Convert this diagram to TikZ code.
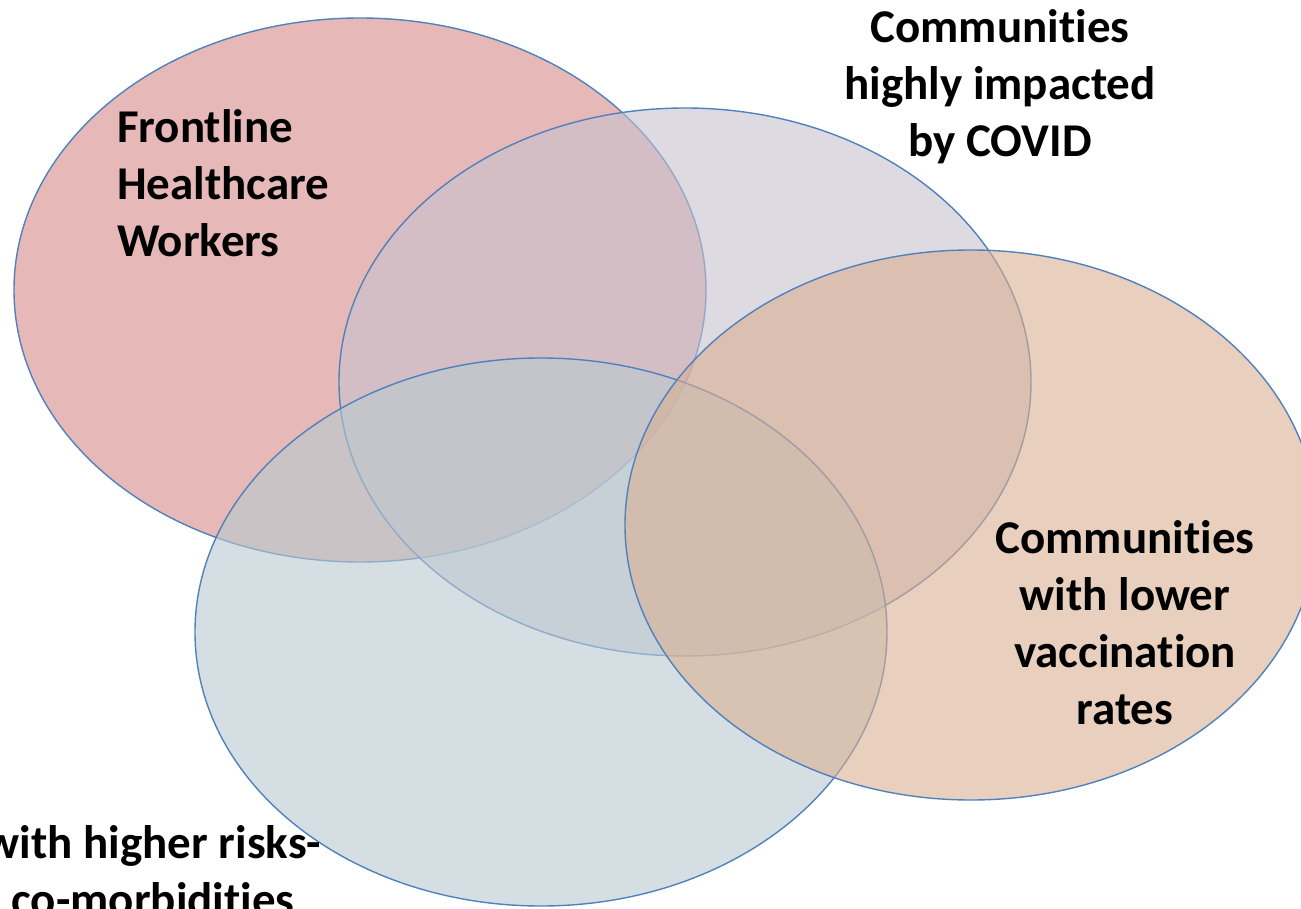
\documentclass[tikz,border=0pt]{standalone}
\usepackage{fontspec}
\setmainfont[Ligatures=NoCommon]{Carlito}
\usetikzlibrary{shapes.geometric}
\definecolor{ringline}{RGB}{79,129,189}
\definecolor{redset}{RGB}{213,137,135}
\definecolor{lavset}{RGB}{198,193,207}
\definecolor{blueset}{RGB}{185,202,208}
\definecolor{peachset}{RGB}{218,175,145}
\begin{document}
\begin{tikzpicture}[x=1pt,y=-1pt,
  setring/.style={ellipse, draw=ringline, line width=1.4pt, inner sep=0pt,
    minimum width=692pt, minimum height=548pt, fill opacity=0.6},
  setlabel/.style={font=\bfseries\fontsize{47}{57}\selectfont, inner sep=0pt, text=black}]
\useasboundingbox (0,0) rectangle (1301,909);
% the four overlapping groups
\node[setring, fill=redset, minimum height=544pt] (fhw) at (360,290) {};
\node[setring, fill=lavset] (covid) at (685,382) {};
\node[setring, fill=blueset] (risk) at (541,632) {};
\node[setring, fill=peachset, minimum height=550pt] (vacc) at (971,525) {};
% group labels (anchored at the baseline of the last line)
\node[setlabel, align=left, anchor=base west] (fhwtext) at (117,257)
  {Frontline\\Healthcare\\Workers};
\node[setlabel, align=center, anchor=base] (covidtext) at (1000,157)
  {Communities\\highly impacted\\by COVID};
\node[setlabel, align=center, anchor=base] (vacctext) at (1125,724)
  {Communities\\with lower\\vaccination\\rates};
\node[setlabel, align=center, anchor=base] (risktext) at (153,915)
  {with higher risks-\\co-morbidities};
\end{tikzpicture}
\end{document}
